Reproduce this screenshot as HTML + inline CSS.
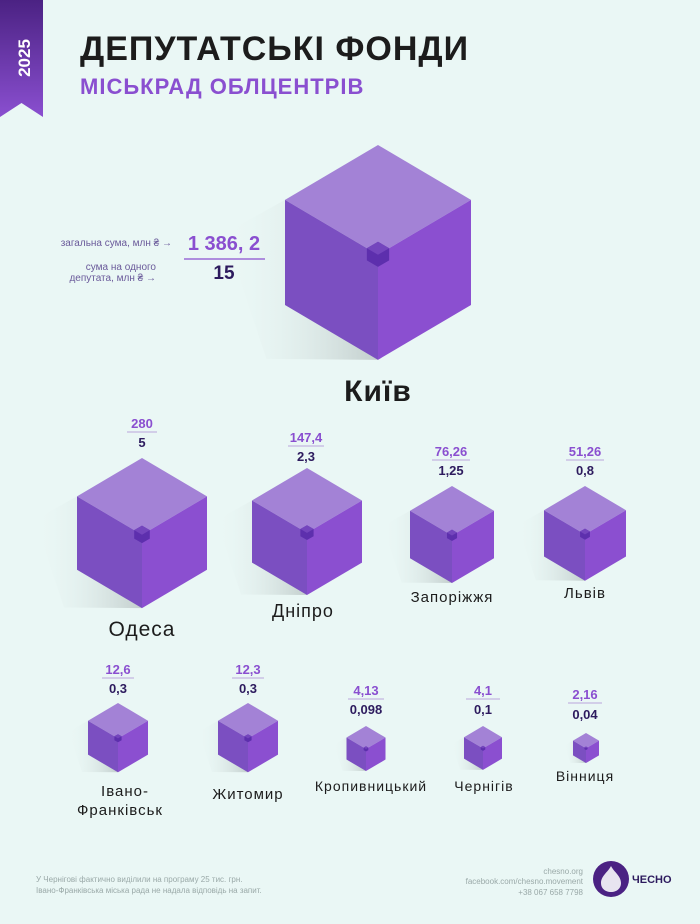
<!DOCTYPE html>
<html><head><meta charset="utf-8">
<style>
html,body{margin:0;padding:0}
body{width:700px;height:924px;background:#eaf7f5;overflow:hidden;position:relative;font-family:"Liberation Sans","DejaVu Sans",sans-serif}
svg{position:absolute;left:0;top:0}
.b{font-weight:bold}
</style></head><body>
<svg width="700" height="924" viewBox="0 0 700 924" xmlns="http://www.w3.org/2000/svg">
<defs>
<linearGradient id="rib" x1="0" y1="0" x2="0" y2="1"><stop offset="0" stop-color="#4b2283"/><stop offset="1" stop-color="#8a4fd0"/></linearGradient>
<linearGradient id="sh" x1="1" y1="0" x2="0" y2="0"><stop offset="0" stop-color="#b9c4c3" stop-opacity="0.8"/><stop offset="1" stop-color="#eaf7f5" stop-opacity="0"/></linearGradient>
<g id="cube">
<polygon points="-100,59 -165,95 -120,230 0,231" fill="url(#sh)"/>
<polygon points="0,0 100,59 0,118 -100,59" fill="#a382d6"/>
<polygon points="-100,59 0,118 0,231 -100,172" fill="#7b4fc1"/>
<polygon points="100,59 0,118 0,231 100,172" fill="#8b4fd0"/>
<polygon points="0,104 12,111 12,124 0,131 -12,124 -12,111" fill="#5d2fad"/>
<polygon points="0,104 12,111 0,118 -12,111" fill="#7445bd"/>
</g>
</defs>
<polygon points="0,0 43,0 43,117 21.5,103 0,117" fill="url(#rib)"/>
<text x="30" y="58" transform="rotate(-90 30 58)" text-anchor="middle" font-size="17" class="b" fill="#fff">2025</text>
<text x="80" y="60" font-size="34" class="b" fill="#1c1c1c" letter-spacing="1">ДЕПУТАТСЬКІ ФОНДИ</text>
<text x="80" y="94" font-size="22" class="b" fill="#8a4fd0" letter-spacing="1">МІСЬКРАД ОБЛЦЕНТРІВ</text>

<use href="#cube" transform="translate(378,145) scale(0.93)"/>
<use href="#cube" transform="translate(142,458) scale(0.65)"/>
<use href="#cube" transform="translate(307,468) scale(0.55)"/>
<use href="#cube" transform="translate(452,486) scale(0.42)"/>
<use href="#cube" transform="translate(585,486) scale(0.41)"/>
<use href="#cube" transform="translate(118,703) scale(0.30)"/>
<use href="#cube" transform="translate(248,703) scale(0.30)"/>
<use href="#cube" transform="translate(366,726) scale(0.195)"/>
<use href="#cube" transform="translate(483,726) scale(0.19)"/>
<use href="#cube" transform="translate(586,733) scale(0.13)"/>

<g font-size="10" fill="#6a5a9a" text-anchor="end">
<text x="172" y="246">загальна сума, млн ₴ →</text>
<text x="156" y="270">сума на одного</text>
<text x="156" y="281">депутата, млн ₴ →</text>
</g>
<text x="224" y="250" text-anchor="middle" font-size="20" class="b" fill="#8a4fd0">1 386, 2</text>
<line x1="184" y1="259" x2="265" y2="259" stroke="#8a4fd0" stroke-width="1.2"/>
<text x="224" y="279" text-anchor="middle" font-size="19" class="b" fill="#2d1b5e">15</text>

<g class="b" text-anchor="middle" font-size="13" style="font-weight:bold">
<text x="142" y="428" fill="#8a4fd0">280</text><line x1="127" y1="432" x2="157" y2="432" stroke="#b9a6dc"/><text x="142" y="447" fill="#2d1b5e">5</text>
<text x="306" y="442" fill="#8a4fd0">147,4</text><line x1="288" y1="446" x2="324" y2="446" stroke="#b9a6dc"/><text x="306" y="461" fill="#2d1b5e">2,3</text>
<text x="451" y="456" fill="#8a4fd0">76,26</text><line x1="432" y1="460" x2="470" y2="460" stroke="#b9a6dc"/><text x="451" y="475" fill="#2d1b5e">1,25</text>
<text x="585" y="456" fill="#8a4fd0">51,26</text><line x1="566" y1="460" x2="604" y2="460" stroke="#b9a6dc"/><text x="585" y="475" fill="#2d1b5e">0,8</text>
<text x="118" y="674" fill="#8a4fd0">12,6</text><line x1="102" y1="678" x2="134" y2="678" stroke="#b9a6dc"/><text x="118" y="693" fill="#2d1b5e">0,3</text>
<text x="248" y="674" fill="#8a4fd0">12,3</text><line x1="232" y1="678" x2="264" y2="678" stroke="#b9a6dc"/><text x="248" y="693" fill="#2d1b5e">0,3</text>
<text x="366" y="695" fill="#8a4fd0">4,13</text><line x1="348" y1="699" x2="384" y2="699" stroke="#b9a6dc"/><text x="366" y="714" fill="#2d1b5e">0,098</text>
<text x="483" y="695" fill="#8a4fd0">4,1</text><line x1="466" y1="699" x2="500" y2="699" stroke="#b9a6dc"/><text x="483" y="714" fill="#2d1b5e">0,1</text>
<text x="585" y="699" fill="#8a4fd0">2,16</text><line x1="568" y1="703" x2="602" y2="703" stroke="#b9a6dc"/><text x="585" y="719" fill="#2d1b5e">0,04</text>
</g>
<g fill="#1c1c1c" text-anchor="middle" letter-spacing="1">
<text x="378" y="401" font-size="30" class="b">Київ</text>
<text x="142" y="636" font-size="21">Одеса</text>
<text x="303" y="617" font-size="18">Дніпро</text>
<text x="452" y="602" font-size="15">Запоріжжя</text>
<text x="585" y="598" font-size="15">Львів</text>
<text x="125" y="796" font-size="15">Івано-</text>
<text x="120" y="815" font-size="15">Франківськ</text>
<text x="248" y="799" font-size="15">Житомир</text>
<text x="371" y="791" font-size="14">Кропивницький</text>
<text x="484" y="791" font-size="14">Чернігів</text>
<text x="585" y="781" font-size="14">Вінниця</text>
</g>
<g font-size="8" fill="#9aa9a8">
<text x="36" y="882">У Чернігові фактично виділили на програму 25 тис. грн.</text>
<text x="36" y="893">Івано-Франківська міська рада не надала відповідь на запит.</text>
<g text-anchor="end"><text x="583" y="874">chesno.org</text><text x="583" y="884">facebook.com/chesno.movement</text><text x="583" y="895">+38 067 658 7798</text></g>
</g>
<circle cx="611" cy="879" r="18" fill="#4b2283"/>
<path d="M611,866 c-3,6 -10,10 -10,17 c0,6 5,9 10,9 c5,0 10,-3 10,-9 c0,-7 -7,-11 -10,-17z" fill="#e8e4f0"/>
<text x="632" y="883" font-size="11" class="b" fill="#2d1b5e">ЧЕСНО</text>
</svg>
</body></html>
